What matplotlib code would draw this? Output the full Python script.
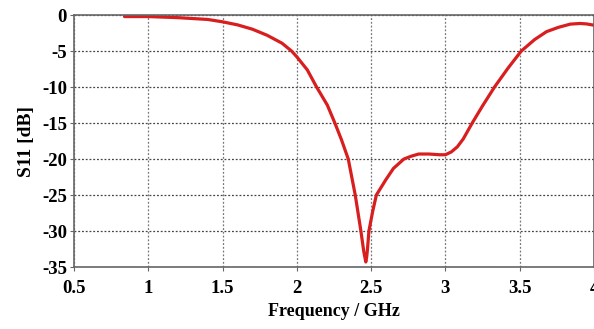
import matplotlib
matplotlib.use("Agg")
import matplotlib.pyplot as plt

plt.rcParams['font.family'] = ['Liberation Serif', 'DejaVu Serif']
plt.rcParams['axes.unicode_minus'] = False

freq = [0.84, 1.0, 1.2, 1.4, 1.5, 1.6, 1.7, 1.8, 1.9, 1.965, 2.0, 2.07, 2.133,
        2.205, 2.256, 2.30, 2.346, 2.393, 2.431, 2.45, 2.464, 2.47, 2.475, 2.485,
        2.51, 2.535, 2.598, 2.65, 2.72, 2.77, 2.82, 2.89, 2.96, 3.0, 3.04, 3.08,
        3.12, 3.18, 3.25, 3.33, 3.42, 3.51, 3.6, 3.68, 3.76, 3.84, 3.905, 3.95,
        4.0]
s11 = [-0.2, -0.2, -0.35, -0.6, -0.93, -1.35, -1.95, -2.8, -3.9, -5.0, -5.8,
       -7.6, -10.0, -12.5, -15.0, -17.3, -20.0, -25.0, -30.0, -32.8, -34.3,
       -33.6, -32.6, -30.0, -27.3, -25.0, -22.9, -21.3, -20.0, -19.6, -19.3,
       -19.3, -19.4, -19.4, -19.0, -18.3, -17.2, -15.0, -12.6, -10.0, -7.4,
       -5.0, -3.4, -2.3, -1.7, -1.25, -1.16, -1.22, -1.4]

xticks = [0.5, 1, 1.5, 2, 2.5, 3, 3.5, 4]
xticklabels = ['0.5', '1', '1.5', '2', '2.5', '3', '3.5', '4']
yticks = [0, -5, -10, -15, -20, -25, -30, -35]
yticklabels = ['0', '-5', '-10', '-15', '-20', '-25', '-30', '-35']

fig = plt.figure(figsize=(5.94, 3.29), dpi=100)
ax = fig.add_axes([0.1246, 0.1884, 0.8754, 0.7656])
ax.plot(freq, s11, color='#d81e1e', linewidth=2.3, solid_capstyle='round',
        solid_joinstyle='round')
ax.set_xlim(0.5, 4)
ax.set_ylim(-35, 0)
ax.set_xticks(xticks)
ax.set_xticklabels(xticklabels)
ax.set_yticks(yticks)
ax.set_yticklabels(yticklabels)
ax.grid(True, axis='y', linestyle=(0, (1.5, 1.5)), color='#444444', linewidth=0.9)
ax.grid(True, axis='x', linestyle=(0, (1.5, 1.5)), color='#777777', linewidth=0.9)
for side in ['left', 'bottom', 'top', 'right']:
    ax.spines[side].set_color('#666666')
    ax.spines[side].set_linewidth(1.2)
ax.tick_params(direction='out', length=3, color='#666666', labelsize=13.5)
ax.tick_params(axis='x', pad=6)
ax.tick_params(axis='y', pad=2)
for lab in ax.get_xticklabels() + ax.get_yticklabels():
    lab.set_fontweight('bold')
ax.set_xlabel('Frequency / GHz', fontsize=13, fontweight='bold', labelpad=5)
ax.set_ylabel('S11 [dB]', fontsize=14, fontweight='bold', labelpad=5)
fig.savefig('out.png', dpi=100)
